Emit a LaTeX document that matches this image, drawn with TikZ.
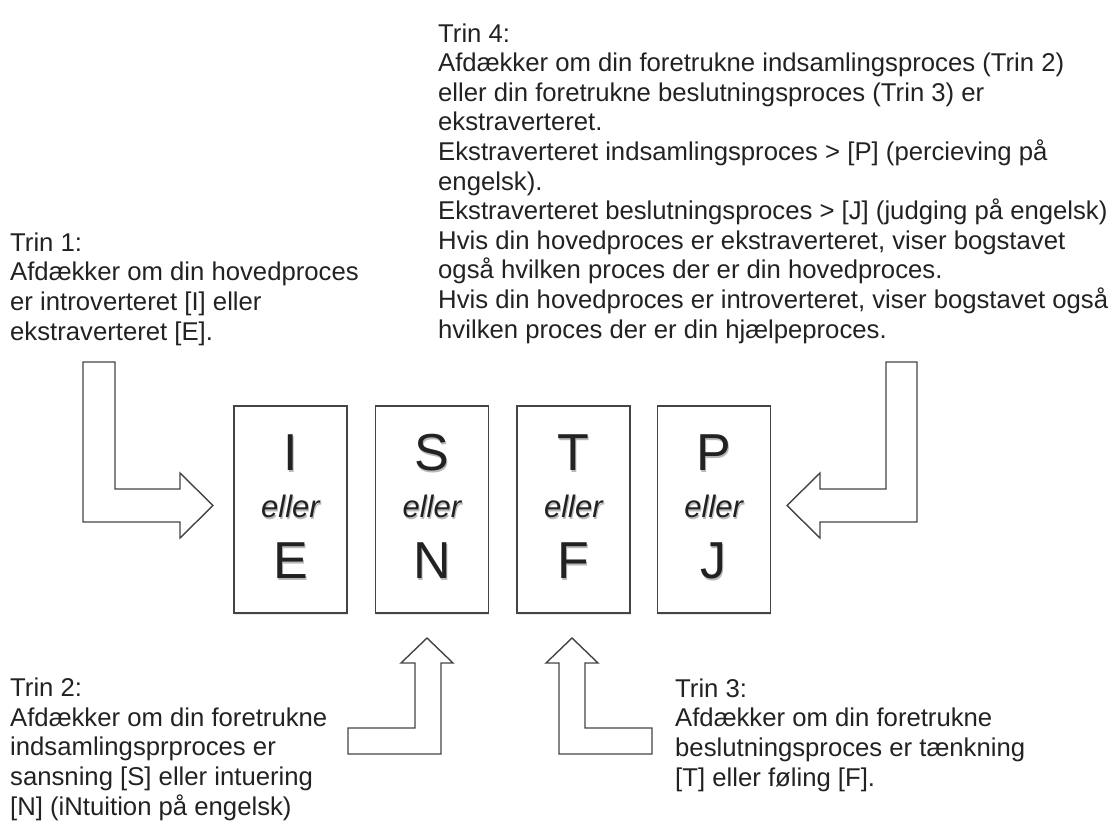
\documentclass[tikz,border=0pt]{standalone}
\usepackage{fontspec}
\setmainfont{Liberation Sans}
\usepackage{tikz}
\usepackage{xcolor}
\usetikzlibrary{positioning, shadows}

\definecolor{TextGray}{RGB}{34,34,34}
\definecolor{LineGray}{RGB}{68,68,68}
\definecolor{GlowGray}{RGB}{185,185,185}

\newcommand{\glowtext}[1]{\leavevmode\rlap{\hspace{1pt}\raisebox{-2pt}{\color{GlowGray}#1}}#1}

\begin{document}
\begin{tikzpicture}[
  x=1pt, y=-1pt,
  letterbox/.style={rectangle, draw=LineGray, fill=white, line width=1.4pt, minimum width=113pt, minimum height=207pt, inner sep=0pt, drop shadow={opacity=0.18, shadow xshift=1pt, shadow yshift=-2pt}},
  letter/.style={anchor=base, inner sep=0pt, text=TextGray, font=\fontsize{52}{52}\selectfont},
  eller/.style={anchor=base, inner sep=0pt, text=TextGray, font=\fontsize{31}{31}\selectfont\itshape},
  note/.style={anchor=base west, inner sep=0pt, align=left, text=TextGray, font=\fontsize{25.7}{29.6}\selectfont},
  bigarrow/.style={draw=LineGray, fill=white, line width=1.4pt, line join=miter}
]
\useasboundingbox (0,0) rectangle (1114,824);

% Row of letter boxes
\node[letterbox] (ie) at (290.5,509.5) {};
\node[letterbox, right=27pt of ie] (sn) {};
\node[letterbox, right=27pt of sn] (tf) {};
\node[letterbox, right=26pt of tf] (pj) {};

\node[letter] (ie-top) at ([yshift=39.5pt]ie.center) {\glowtext{I}};
\node[eller] (ie-mid) at ([yshift=-7.5pt]ie.center) {\glowtext{eller}};
\node[letter] (ie-bot) at ([yshift=-68.5pt]ie.center) {\glowtext{E}};

\node[letter] (sn-top) at ([yshift=39.5pt]sn.center) {\glowtext{S}};
\node[eller] (sn-mid) at ([yshift=-7.5pt]sn.center) {\glowtext{eller}};
\node[letter] (sn-bot) at ([yshift=-68.5pt]sn.center) {\glowtext{N}};

\node[letter] (tf-top) at ([yshift=39.5pt]tf.center) {\glowtext{T}};
\node[eller] (tf-mid) at ([yshift=-7.5pt]tf.center) {\glowtext{eller}};
\node[letter] (tf-bot) at ([yshift=-68.5pt]tf.center) {\glowtext{F}};

\node[letter] (pj-top) at ([yshift=39.5pt]pj.center) {\glowtext{P}};
\node[eller] (pj-mid) at ([yshift=-7.5pt]pj.center) {\glowtext{eller}};
\node[letter] (pj-bot) at ([yshift=-68.5pt]pj.center) {\glowtext{J}};

% Step texts (placed at the baseline of their last line)
\node[note] (trin1) at (10,340) {Trin 1:\\Afdækker om din hovedproces\\er introverteret [I] eller\\ekstraverteret [E].};
\node[note] (trin4) at (438,338) {Trin 4:\\Afdækker om din foretrukne indsamlingsproces (Trin 2)\\eller din foretrukne beslutningsproces (Trin 3) er\\ekstraverteret.\\Ekstraverteret indsamlingsproces > [P] (percieving på\\engelsk).\\Ekstraverteret beslutningsproces > [J] (judging på engelsk)\\Hvis din hovedproces er ekstraverteret, viser bogstavet\\også hvilken proces der er din hovedproces.\\Hvis din hovedproces er introverteret, viser bogstavet også\\hvilken proces der er din hjælpeproces.};
\node[note] (trin2) at (10,815) {Trin 2:\\Afdækker om din foretrukne\\indsamlingsprproces er\\sansning [S] eller intuering\\{}[N] (iNtuition på engelsk)};
\node[note] (trin3) at (675,786) {Trin 3:\\Afdækker om din foretrukne\\beslutningsproces er tænkning\\{}[T] eller føling [F].};

% Block arrows
\draw[bigarrow] (83,362) -- (115,362) -- (115,489) -- (180,489) -- (180,473) -- (213,505.5) -- (180,538) -- (180,522) -- (83,522) -- cycle;
\draw[bigarrow] (886,362) -- (917,362) -- (917,522) -- (820,522) -- (820,538) -- (787,505.5) -- (820,473) -- (820,489) -- (886,489) -- cycle;
\draw[bigarrow] (427,638) -- (453,663) -- (441,663) -- (441,754) -- (348,754) -- (348,728) -- (415,728) -- (415,663) -- (401,663) -- cycle;
\draw[bigarrow] (572,638) -- (598,663) -- (585,663) -- (585,728) -- (652,728) -- (652,754) -- (559,754) -- (559,663) -- (546,663) -- cycle;

\end{tikzpicture}
\end{document}
